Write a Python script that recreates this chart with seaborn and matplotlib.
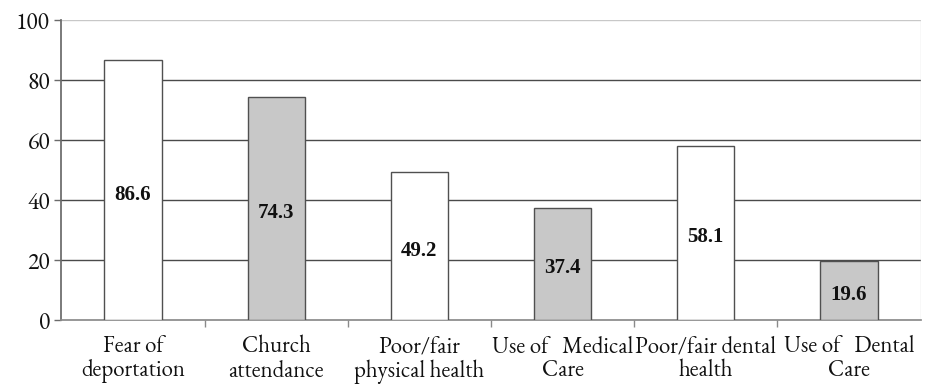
import matplotlib
matplotlib.use("Agg")
import matplotlib.pyplot as plt
import seaborn as sns
import pandas as pd

categories = [
    "Fear of\ndeportation",
    "Church\nattendance",
    "Poor/fair\nphysical health",
    "Use of   Medical\nCare",
    "Poor/fair dental\nhealth",
    "Use of   Dental\nCare",
]
values = [86.6, 74.3, 49.2, 37.4, 58.1, 19.6]
fills = ["#ffffff", "#c8c8c8", "#ffffff", "#c8c8c8", "#ffffff", "#c8c8c8"]
y_ticks = [0, 20, 40, 60, 80, 100]

df = pd.DataFrame({"category": categories, "value": values})

sns.set_theme(style="white")
SERIF = ["EB Garamond", "Liberation Serif", "DejaVu Serif"]
SERIF_BOLD = ["Liberation Serif", "DejaVu Serif"]
plt.rcParams["font.family"] = SERIF

fig, ax = plt.subplots(figsize=(9.29, 3.86), dpi=100)
fig.subplots_adjust(left=0.066, right=0.991, top=0.948, bottom=0.171)

sns.barplot(data=df, x="category", y="value", hue="category", palette=fills,
            legend=False, width=0.4, edgecolor="#505050", linewidth=1.0,
            ax=ax, zorder=3)

ax.set_ylim(0, 100)
ax.set_xlim(-0.5, len(categories) - 0.5)
ax.set_xlabel("")
ax.set_ylabel("")

# horizontal gridlines sit behind the bars
for t in y_ticks[1:-1]:
    ax.axhline(t, color="#4a4a4a", linewidth=1.0, zorder=1)
ax.axhline(100, color="#c8c8c8", linewidth=1.0, zorder=1)

for side in ["top", "right"]:
    ax.spines[side].set_visible(False)
ax.spines["left"].set_color("#6a6a6a")
ax.spines["bottom"].set_color("#8a8a8a")
ax.axvline(len(categories) - 0.5, color="#dddddd", linewidth=1.0, zorder=1)

# category ticks sit on the boundaries between bars
ax.set_xticks([i + 0.5 for i in range(len(categories) - 1)], minor=True)
ax.set_xticks(range(len(categories)))
ax.set_xticklabels(categories, fontsize=16.5, color="#111111", linespacing=1.0,
                   family=SERIF)
ax.set_yticks(y_ticks)
ax.set_yticklabels([str(t) for t in y_ticks], fontsize=17, color="#111111",
                   family=SERIF)
ax.tick_params(axis="x", which="major", length=0, pad=11)
ax.tick_params(axis="x", which="minor", length=5, width=1, color="#8a8a8a",
               direction="out", bottom=True)
ax.tick_params(axis="y", length=5, width=1, color="#6a6a6a", direction="out",
               left=True, pad=3)

for i, v in enumerate(values):
    ax.text(i, v / 2 - 1.5, f"{v:.1f}", ha="center", va="center",
            fontsize=15, fontweight="bold", color="#111111", zorder=4,
            family=SERIF_BOLD)

fig.savefig("out.png", dpi=100, facecolor="white")
